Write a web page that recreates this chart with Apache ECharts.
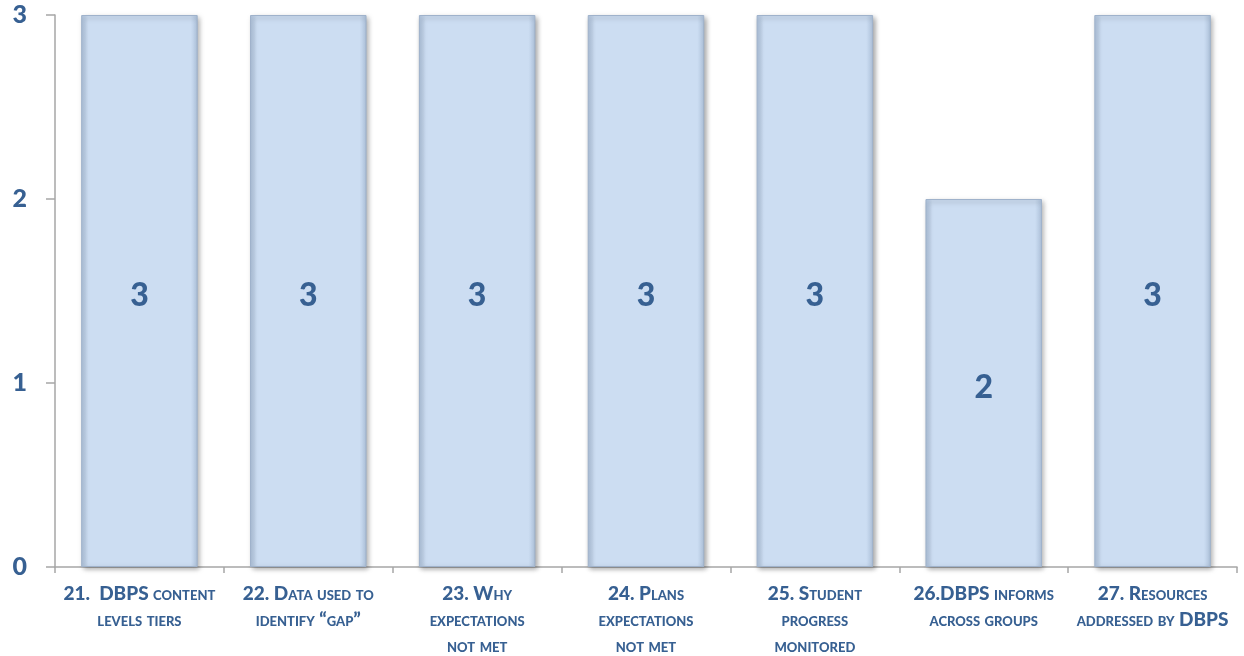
<!DOCTYPE html>
<html>
<head>
<meta charset="utf-8">
<script src="https://cdn.jsdelivr.net/npm/echarts@6/dist/echarts.min.js"></script>
<style>
html,body{margin:0;padding:0;background:#fff;}
#chart{width:1244px;height:656px;}
</style>
</head>
<body>
<div id="chart"></div>
<script>
const categories = [
  "21.  DBPS content\nlevels tiers",
  "22. Data used to\nidentify \u201cgap\u201d",
  "23. Why\nexpectations\nnot met",
  "24. Plans\nexpectations\nnot met",
  "25. Student\nprogress\nmonitored",
  "26.DBPS informs\nacross groups",
  "27. Resources\naddressed by DBPS"
];
const values = [3, 3, 3, 3, 3, 2, 3];
const yTicks = [0, 1, 2, 3];

const textColor = '#376092';
const chart = echarts.init(document.getElementById('chart'));
chart.setOption({
  animation: false,
  grid: { left: 55, right: 7, top: 15, bottom: 89, containLabel: false, outerBoundsMode: 'none' },
  xAxis: {
    type: 'category',
    data: categories,
    axisLine: { lineStyle: { color: '#A6A6A6', width: 1.5 } },
    axisTick: { show: true, length: 6, lineStyle: { color: '#A6A6A6', width: 1.5 } },
    axisLabel: {
      interval: 0,
      margin: 14,
      color: textColor,
      fontFamily: 'Lato',
      fontWeight: 900,
      fontStyle: 'normal small-caps',
      fontSize: 19,
      lineHeight: 26,
      align: 'center'
    }
  },
  yAxis: {
    type: 'value',
    min: yTicks[0],
    max: yTicks[yTicks.length - 1],
    interval: 1,
    splitLine: { show: false },
    axisLine: { show: true, lineStyle: { color: '#A6A6A6', width: 1.5 } },
    axisTick: { show: true, length: 9, lineStyle: { color: '#A6A6A6', width: 1.5 } },
    axisLabel: {
      margin: 28,
      color: textColor,
      fontFamily: 'Lato',
      fontWeight: 900,
      fontSize: 25
    }
  },
  series: [{
    type: 'bar',
    data: values,
    barCategoryGap: '31%',
    itemStyle: {
      color: new echarts.graphic.LinearGradient(0, 0, 1, 0, [
        { offset: 0, color: '#AFC3DC' },
        { offset: 0.06, color: '#CCDDF2' },
        { offset: 0.94, color: '#CCDDF2' },
        { offset: 1, color: '#AFC3DC' }
      ]),
      borderColor: '#9FB2CB',
      borderWidth: 1,
      shadowColor: 'rgba(0,0,0,0.35)',
      shadowBlur: 5,
      shadowOffsetX: 2,
      shadowOffsetY: 2
    },
    label: {
      show: true,
      position: 'inside',
      offset: [0, 5],
      color: textColor,
      fontFamily: 'Lato',
      fontWeight: 900,
      fontSize: 32
    }
  }]
});
</script>
</body>
</html>
